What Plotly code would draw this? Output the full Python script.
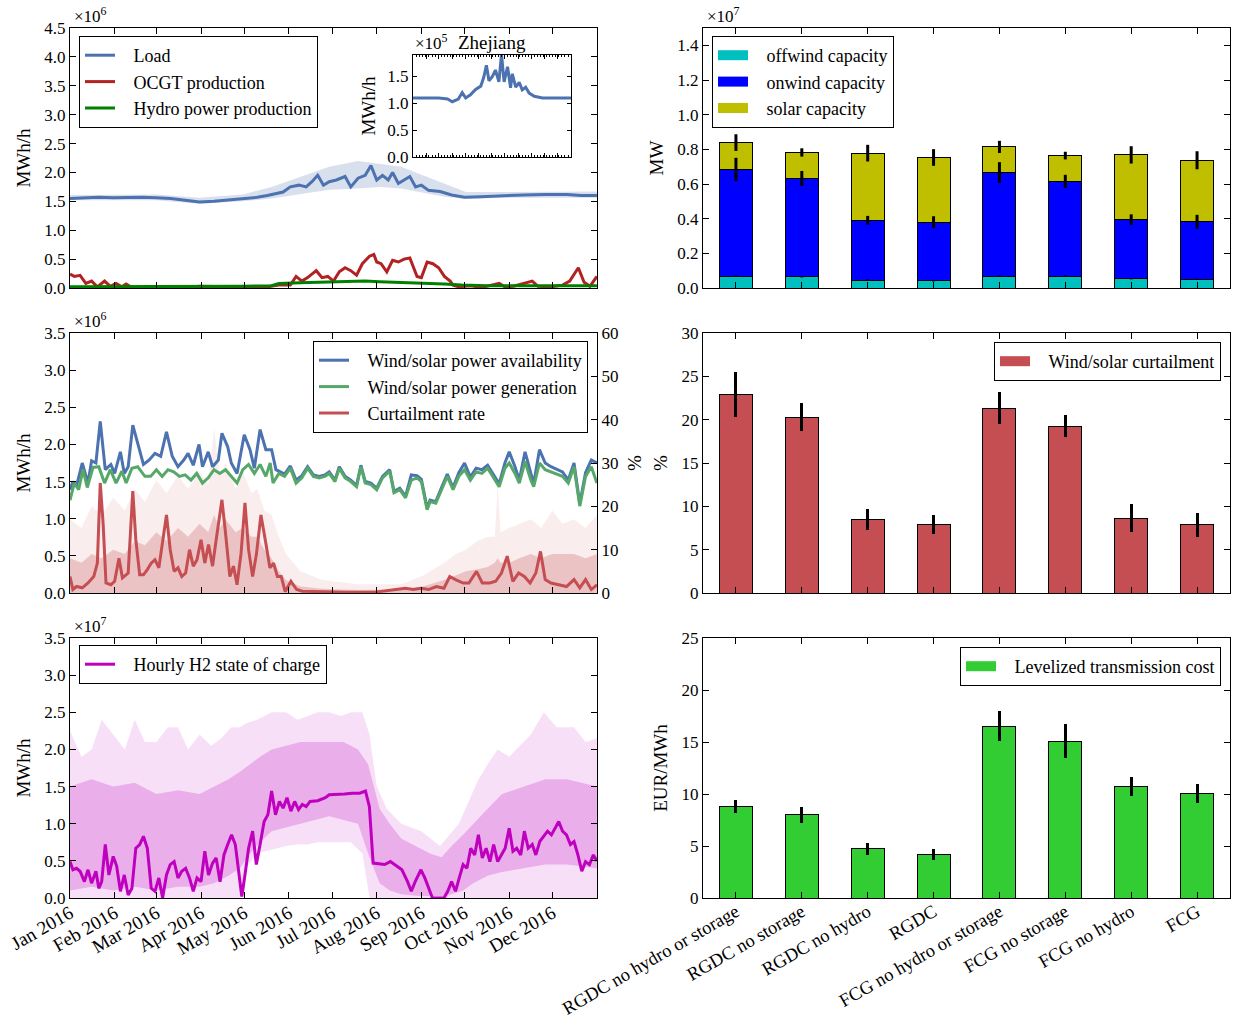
import numpy as np
import pandas as pd
import plotly.graph_objects as go

FONT = "Liberation Serif"
FS = 17      # numeric tick labels
FT = 19      # words (titles, date tick labels)
FL = 18      # legend text
PAD = "\u00a0\u00a0\u00a0"   # gap between legend symbol and legend text

# ---------------- data ----------------
month_ticks = ["2016-01-01", "2016-02-01", "2016-03-01", "2016-04-01", "2016-05-01", "2016-06-01",
               "2016-07-01", "2016-08-01", "2016-09-01", "2016-10-01", "2016-11-01", "2016-12-01"]
month_labels = ["Jan 2016", "Feb 2016", "Mar 2016", "Apr 2016", "May 2016", "Jun 2016",
                "Jul 2016", "Aug 2016", "Sep 2016", "Oct 2016", "Nov 2016", "Dec 2016"]

# top-left (units 1e6 MWh/h), x = day of year 2016
load_days = [0, 10, 20, 30, 40, 50, 60, 70, 80, 90, 100, 110, 120, 130, 137, 143, 148, 153, 159, 164, 168, 172,
             176, 180, 185, 191, 195, 200, 205, 209, 213, 217, 221, 224, 228, 232, 236, 240, 244, 249, 257, 265,
             274, 285, 300, 315, 330, 345, 355, 365.9]
load_vals = [1.55, 1.56, 1.57, 1.56, 1.57, 1.57, 1.56, 1.55, 1.52, 1.49, 1.50, 1.52, 1.55, 1.57, 1.60, 1.63, 1.66,
             1.75, 1.78, 1.75, 1.84, 1.95, 1.78, 1.84, 1.87, 1.93, 1.75, 1.90, 1.95, 2.12, 1.87, 1.95, 1.87, 2.00,
             1.81, 1.87, 1.93, 1.75, 1.78, 1.69, 1.67, 1.61, 1.57, 1.58, 1.60, 1.61, 1.62, 1.62, 1.60, 1.60]
load_band_days = [0, 60, 90, 120, 140, 160, 180, 200, 215, 230, 245, 260, 275, 300, 365.9]
load_band_lo = [1.52, 1.52, 1.46, 1.50, 1.55, 1.62, 1.70, 1.72, 1.75, 1.72, 1.65, 1.58, 1.54, 1.56, 1.56]
load_band_hi = [1.61, 1.62, 1.56, 1.62, 1.75, 1.92, 2.10, 2.20, 2.15, 2.10, 1.95, 1.80, 1.66, 1.66, 1.67]

ocgt_days = [0, 3, 7, 11, 15, 19, 24, 28, 32, 36, 39, 43, 50, 66, 80, 90, 111, 137, 145, 153, 157, 161, 165, 171,
             175, 179, 183, 187, 191, 195, 199, 203, 208, 211, 213, 216, 220, 224, 228, 232, 236, 238, 241, 244,
             248, 252, 256, 260, 264, 266, 270, 278, 286, 298, 302, 308, 321, 325, 334, 342, 347, 353, 357, 361,
             365.9]
ocgt_vals = [0.24, 0.20, 0.22, 0.08, 0.12, 0.02, 0.12, 0.03, 0.08, 0.02, 0.07, 0.01, 0.01, 0.02, 0.01, 0.03, 0.02,
             0.02, 0.05, 0.05, 0.20, 0.12, 0.18, 0.30, 0.18, 0.20, 0.12, 0.28, 0.35, 0.30, 0.22, 0.42, 0.55, 0.58,
             0.45, 0.42, 0.28, 0.48, 0.45, 0.50, 0.52, 0.38, 0.20, 0.18, 0.45, 0.42, 0.35, 0.20, 0.12, 0.05, 0.02,
             0.04, 0.01, 0.08, 0.02, 0.03, 0.12, 0.03, 0.02, 0.05, 0.12, 0.35, 0.10, 0.03, 0.20]

hydro_days = [0, 30, 60, 90, 120, 140, 145, 160, 175, 190, 205, 215, 230, 245, 260, 272, 290, 320, 365.9]
hydro_vals = [0.02, 0.02, 0.02, 0.03, 0.03, 0.04, 0.08, 0.09, 0.10, 0.11, 0.12, 0.11, 0.10, 0.09, 0.07, 0.05,
              0.04, 0.04, 0.04]

# inset, units 1e5 MWh/h
zj_days = [0, 30, 60, 80, 91, 105, 114, 122, 133, 145, 157, 164, 170, 176, 184, 191, 199, 205, 211, 219, 226, 230,
           238, 246, 253, 261, 269, 281, 300, 330, 365.9]
zj_vals = [1.10, 1.10, 1.10, 1.08, 1.03, 1.08, 1.20, 1.10, 1.16, 1.26, 1.32, 1.49, 1.71, 1.42, 1.50, 1.62, 1.40,
           1.91, 1.40, 1.68, 1.29, 1.55, 1.30, 1.39, 1.25, 1.30, 1.19, 1.13, 1.10, 1.10, 1.10]

# middle-left (units 1e6 MWh/h)
gen_days = [0, 3, 6, 9, 12, 16, 20, 24, 28, 32, 36, 39, 43, 47, 52, 56, 60, 64, 68, 72, 76, 80, 84, 88, 92, 96, 100,
            104, 108, 112, 116, 120, 124, 128, 132, 136, 139, 141, 145, 149, 153, 157, 161, 165, 169, 173, 177,
            180, 184, 187, 191, 195, 199, 202, 205, 209, 213, 217, 222, 225, 229, 233, 237, 241, 244, 248, 250,
            254, 258, 262, 266, 270, 274, 278, 282, 286, 290, 294, 298, 302, 305, 309, 312, 316, 320, 322, 326,
            330, 334, 338, 342, 346, 350, 354, 358, 362, 365.9]
gen_vals = [1.25, 1.48, 1.39, 1.66, 1.42, 1.69, 1.70, 1.48, 1.66, 1.48, 1.64, 1.48, 1.68, 1.70, 1.57, 1.57, 1.66,
            1.57, 1.66, 1.63, 1.57, 1.59, 1.52, 1.61, 1.48, 1.55, 1.66, 1.61, 1.66, 1.57, 1.48, 1.66, 1.73, 1.61,
            1.73, 1.57, 1.75, 1.48, 1.61, 1.57, 1.68, 1.48, 1.55, 1.68, 1.57, 1.55, 1.57, 1.61, 1.50, 1.68, 1.55,
            1.50, 1.43, 1.70, 1.48, 1.46, 1.39, 1.55, 1.64, 1.35, 1.39, 1.28, 1.52, 1.55, 1.50, 1.12, 1.23, 1.21,
            1.39, 1.57, 1.39, 1.57, 1.66, 1.52, 1.63, 1.61, 1.68, 1.55, 1.43, 1.68, 1.75, 1.61, 1.48, 1.77, 1.52,
            1.43, 1.75, 1.66, 1.63, 1.61, 1.57, 1.48, 1.70, 1.17, 1.57, 1.70, 1.48]

avail_days = [0, 2, 4.5, 8.5, 12.5, 15, 18, 21, 24.5, 28.4, 31, 35, 37.7, 40.4, 43.6, 47, 51, 55, 59, 63, 67, 71,
              75, 79, 82, 85.6, 89.6, 92, 96, 99, 103, 105.5, 109.5, 112, 116, 121, 125, 128, 132, 136, 140, 143,
              145, 149, 153, 157, 161, 165, 169, 173, 177, 180, 184, 187, 191, 195, 199, 202, 205, 209, 213, 217,
              222, 225, 229, 233, 237, 241, 244, 248, 250, 254, 258, 262, 266, 270, 274, 278, 282, 286, 290, 294,
              298, 302, 305, 309, 312, 316, 320, 322, 326, 330, 334, 338, 342, 346, 350, 354, 358, 362, 365.9]
avail_vals = [1.39, 1.50, 1.44, 1.75, 1.48, 1.78, 1.75, 2.31, 1.66, 1.73, 1.61, 1.90, 1.61, 1.70, 2.26, 2.00, 1.73,
              1.79, 1.88, 1.84, 2.17, 1.84, 1.70, 1.79, 1.88, 1.72, 2.00, 1.70, 1.90, 1.70, 1.79, 2.15, 1.97, 1.75,
              1.61, 2.13, 1.93, 1.68, 2.20, 1.93, 1.93, 1.66,
              1.64, 1.60, 1.71, 1.52, 1.58, 1.70, 1.59, 1.57, 1.59, 1.63, 1.52, 1.70, 1.57, 1.52, 1.45, 1.72, 1.50,
              1.48, 1.41, 1.57, 1.66, 1.37, 1.41, 1.30, 1.59, 1.58, 1.53, 1.14, 1.25, 1.23, 1.42, 1.60, 1.42, 1.62,
              1.75, 1.56, 1.68, 1.66, 1.72, 1.60, 1.47, 1.75, 1.90, 1.70, 1.52, 1.90, 1.60, 1.47, 1.93, 1.75, 1.70,
              1.67, 1.63, 1.52, 1.75, 1.20, 1.62, 1.79, 1.75]

# curtailment rate, %
curt_days = [0, 2, 4.5, 8.5, 12.5, 16.5, 19, 21, 23, 25, 28.4, 31, 34, 36.4, 40.4, 43.6, 45.7, 48.4, 51, 53.7, 56.4,
             59, 61.7, 64.3, 67, 69.6, 72.3, 75, 77.6, 80.3, 83, 85.6, 88.2, 91, 93.6, 96.2, 99, 101.5, 105.5, 108,
             111, 113.5, 116, 118.8, 121.5, 124, 126.8, 129.4, 132.6, 136, 138.8, 141.4, 144, 146.7, 149.4, 153.4,
             157.4, 161.3, 172, 190.6, 211.8, 233, 238.4, 243.7, 249, 254.4, 259.7, 263.7, 267.7, 273, 277, 282.3,
             286.3, 291.6, 295.6, 299.6, 303.6, 307.5, 311.5, 315.5, 319.5, 323.5, 326.7, 330, 334, 339.4, 344.8,
             350, 354, 358, 362, 365.9]
curt_vals = [3.8, 0.8, 1.5, 1.2, 2.3, 3.8, 6.9, 25.4, 16, 2.3, 1.9, 2.7, 8, 3.5, 4.6, 23.5, 12.3, 4.2, 4.2, 5.4,
             6.9, 7.7, 5.8, 11.5, 18, 10, 5, 5.8, 3.8, 4.6, 10, 6.2, 7.7, 12.3, 6.9, 11.2, 6.2, 12.3, 21.5, 13.8,
             3.8, 6.2, 1.9, 9.2, 20.8, 10, 3.8, 8.8, 18, 11.5, 5.8, 6.9, 3.8, 3.8, 0.3, 2.7, 0.8, 0.4, 0.3, 0.2,
             0.2, 1.1, 0.8, 1.1, 0.8, 1.5, 1.1, 3.8, 3.1, 2.3, 2.3, 5, 2.3, 2.3, 2.7, 4.6, 8.5, 2.7, 4.6, 3.8,
             2.3, 4.6, 9.6, 3.1, 2.3, 1.9, 1.5, 3.1, 1.2, 3.1, 0.8, 1.9]
curt_band_days = [0, 8, 15, 22, 30, 38, 45, 52, 60, 67, 75, 82, 90, 96, 100, 104, 108, 115, 120, 126, 130, 135, 140,
                  145, 150, 160, 175, 200, 230, 245, 260, 268, 275, 283, 290, 295, 297, 299, 305, 312, 320, 327,
                  335, 342, 350, 358, 365.9]
curt_outer_hi = [17, 15, 20, 18, 22, 19, 24, 21, 26, 23, 27, 24, 28, 25, 38, 27, 30, 24, 28, 23, 24, 19, 18,
                 13, 9, 5, 3, 2, 2, 4, 7, 9, 10, 12, 13, 13, 25, 14, 15, 16, 17, 15, 19, 16, 17, 15, 18]
curt_inner_hi = [8, 7, 9, 8, 10, 9, 12, 11, 14, 12, 15, 13, 16, 14, 18, 15, 17, 14, 15, 13, 13, 10, 8,
                 5, 3, 1.5, 1, 0.7, 0.8, 1.5, 3, 4, 5, 5.5, 6, 7, 8, 7, 7, 8, 9, 8, 9, 9, 9, 8, 9]

# bottom-left (units 1e7 MWh/h)
h2_days = [0, 2, 4.5, 7, 10, 12.5, 15, 18, 20, 22, 24.5, 27, 30, 32.4, 35, 37.7, 40.4, 43, 45.7, 48.4, 51, 53.7,
           56.4, 59, 61.7, 64.3, 67, 69.6, 72.3, 75, 77.6, 80.3, 83, 85.6, 88.2, 91, 93.6, 96.2, 99, 101.5, 104.2,
           106.9, 109.5, 112.2, 114.8, 117.5, 119.3, 121.5, 124, 126.8, 129.4, 132, 134.8, 137.4, 140, 142.7, 145.4,
           148, 150.7, 153.4, 156, 158.7, 161.3, 164, 166.7, 172, 177.3, 180, 185.3, 190.6, 196, 201.2, 205.2,
           207.9, 210.5, 214.5, 218.5, 222.5, 226.5, 230.5, 234.4, 237, 239.7, 243.7, 246.4, 249, 251.7, 259.7,
           262.3, 265, 267.7, 270.3, 273, 275.6, 278.3, 281, 283.6, 286.3, 289, 291.6, 294.2, 297, 299.6, 302.2,
           305, 307.6, 310.2, 313, 315.5, 318.2, 321, 323.5, 326.2, 329, 331.6, 334.3, 337, 339.4, 342, 344.8,
           347.5, 350, 352.7, 355.4, 358, 360.7, 363.4, 365.9]
h2_vals = [0.49, 0.38, 0.40, 0.36, 0.22, 0.38, 0.20, 0.36, 0.13, 0.22, 0.72, 0.31, 0.56, 0.43, 0.09, 0.31, 0.04,
           0.13, 0.67, 0.72, 0.83, 0.67, 0.13, 0.09, 0.27, 0.0, 0.31, 0.45, 0.49, 0.27, 0.36, 0.40, 0.27, 0.09,
           0.27, 0.22, 0.63, 0.31, 0.47, 0.54, 0.22, 0.58, 0.72, 0.85, 0.72, 0.27, 0.02, 0.31, 0.67, 0.90, 0.45,
           0.72, 1.03, 1.12, 1.44, 1.12, 1.30, 1.21, 1.35, 1.17, 1.30, 1.19, 1.26, 1.23, 1.30, 1.31, 1.35, 1.39,
           1.39, 1.40, 1.41, 1.41, 1.44, 1.23, 0.47, 0.46, 0.45, 0.49, 0.43, 0.38, 0.22, 0.09, 0.22, 0.38, 0.27,
           0.13, 0.0, 0.0, 0.09, 0.22, 0.09, 0.27, 0.45, 0.40, 0.67, 0.58, 0.85, 0.54, 0.67, 0.49, 0.72, 0.49,
           0.58, 0.67, 0.94, 0.63, 0.67, 0.58, 0.90, 0.67, 0.72, 0.58, 0.76, 0.83, 0.90, 0.85, 0.94, 1.03, 0.90,
           0.85, 0.72, 0.76, 0.58, 0.36, 0.49, 0.45, 0.58, 0.50]
h2_band_days = [0, 8, 15, 22, 30, 38, 45, 52, 60, 68, 75, 82, 90, 98, 105, 112, 118, 122, 130, 140, 150, 158, 165,
                172, 180, 188, 195, 203, 208, 213, 220, 230, 244, 257, 270, 283, 290, 297, 305, 310, 320, 329, 338,
                350, 358, 365.9]
h2_outer_lo = [0, 0, 0, 0, 0, 0, 0, 0, 0, 0, 0, 0, 0, 0, 0, 0, 0, 0.4, 0.6, 0.65, 0.7, 0.72, 0.72, 0.75, 0.75,
               0.75, 0.75, 0.6, 0, 0, 0, 0, 0, 0, 0, 0, 0, 0, 0, 0, 0, 0, 0, 0, 0, 0]
h2_outer_hi = [2.25, 1.9, 2.0, 2.4, 2.2, 2.0, 2.4, 2.1, 2.1, 2.3, 2.3, 2.0, 2.2, 2.05, 2.15, 2.3, 2.3, 2.35, 2.4,
               2.5, 2.5, 2.4, 2.45, 2.5, 2.5, 2.45, 2.5, 2.5, 2.2, 1.5, 1.2, 1.0, 0.9, 0.7, 1.0, 1.57, 1.8, 2.0,
               1.9, 2.0, 2.2, 2.5, 2.3, 2.3, 2.1, 2.15]
h2_in_days = [0, 15, 30, 45, 60, 75, 90, 100, 110, 118, 125, 132, 140, 150, 160, 170, 180, 190, 200, 207, 215, 222,
              230, 240, 250, 258, 265, 273, 280, 290, 300, 315, 330, 345, 365.9]
h2_in_lo = [0.1, 0.15, 0.1, 0.15, 0.1, 0.15, 0.15, 0.2, 0.3, 0.4, 0.6, 0.75, 0.9, 0.95, 1.0, 1.05, 1.1, 1.05, 1.0,
            0.6, 0.2, 0.1, 0.05, 0.03, 0.02, 0.02, 0.05, 0.1, 0.2, 0.3, 0.35, 0.4, 0.45, 0.45, 0.4]
h2_in_hi = [1.5, 1.6, 1.5, 1.55, 1.4, 1.45, 1.4, 1.5, 1.6, 1.7, 1.8, 1.9, 2.0, 2.05, 2.1, 2.1, 2.1, 2.1, 2.0, 1.8,
            1.2, 1.0, 0.8, 0.7, 0.6, 0.55, 0.7, 0.85, 1.0, 1.2, 1.4, 1.5, 1.6, 1.6, 1.5]

# right column
scenarios = ["RGDC no hydro or storage", "RGDC no storage", "RGDC no hydro", "RGDC",
             "FCG no hydro or storage", "FCG no storage", "FCG no hydro", "FCG"]
offwind = [0.069, 0.065, 0.046, 0.042, 0.069, 0.069, 0.054, 0.050]          # 1e7 MW
onwind = [0.615, 0.567, 0.344, 0.338, 0.597, 0.546, 0.340, 0.332]
solar = [0.155, 0.150, 0.388, 0.373, 0.148, 0.149, 0.374, 0.355]
offwind_err = [0.004, 0.004, 0.004, 0.004, 0.004, 0.004, 0.004, 0.004]
onwind_err = [0.067, 0.043, 0.026, 0.034, 0.060, 0.038, 0.031, 0.040]
solar_err = [0.048, 0.024, 0.048, 0.048, 0.035, 0.022, 0.050, 0.052]
curtail = [22.9, 20.3, 8.45, 7.9, 21.3, 19.25, 8.65, 7.85]                 # %
curtail_err = [2.6, 1.6, 1.2, 1.1, 1.85, 1.3, 1.6, 1.4]
trans_cost = [8.8, 8.0, 4.74, 4.19, 16.5, 15.08, 10.72, 10.05]             # EUR/MWh
trans_err = [0.65, 0.78, 0.56, 0.53, 1.44, 1.65, 0.91, 0.9]

# ---------------- helpers ----------------
START = pd.Timestamp("2016-01-01")


def dates(days):
    return START + pd.to_timedelta(np.asarray(days, dtype=float), unit="D")


C_LOAD = "#4C72B0"
C_OCGT = "#B22222"
C_HYDRO = "#008000"
C_AVAIL = "#4C72B0"
C_GEN = "#55A868"
C_CURT = "#C44E52"
C_H2 = "#BF00BF"
C_OFF, C_ON, C_SOL, C_TR = "#00BFBF", "#0000FF", "#BFBF00", "#32CD32"

fig = go.Figure()


def band(x, lo, hi, color, xa, ya):
    fig.add_trace(go.Scatter(x=x, y=lo, mode="lines", line=dict(width=0), showlegend=False,
                             hoverinfo="skip", xaxis=xa, yaxis=ya))
    fig.add_trace(go.Scatter(x=x, y=hi, mode="lines", line=dict(width=0), fill="tonexty",
                             fillcolor=color, showlegend=False, hoverinfo="skip", xaxis=xa, yaxis=ya))


def patch_legend(name, color, xa, ya, legend):
    # legend-only proxy giving a wide rectangular patch like the reference
    fig.add_trace(go.Scatter(x=[None], y=[None], mode="lines", name=PAD + name, line=dict(color=color, width=13),
                             xaxis=xa, yaxis=ya, legend=legend, hoverinfo="skip"))


def series(x, y, name, color, xa, ya, legend):
    fig.add_trace(go.Scatter(x=x, y=y, mode="lines", name=PAD + name, line=dict(color=color, width=3),
                             xaxis=xa, yaxis=ya, legend=legend))


# --- top-left
band(dates(load_band_days), load_band_lo, load_band_hi, "rgba(76,114,176,0.22)", "x", "y")
series(dates(load_days), load_vals, "Load", C_LOAD, "x", "y", "legend")
series(dates(ocgt_days), ocgt_vals, "OCGT production", C_OCGT, "x", "y", "legend")
series(dates(hydro_days), hydro_vals, "Hydro power production", C_HYDRO, "x", "y", "legend")
# inset
fig.add_trace(go.Scatter(x=dates(zj_days), y=zj_vals, mode="lines", showlegend=False,
                         line=dict(color=C_LOAD, width=3), xaxis="x7", yaxis="y8"))

# --- middle-left
series(dates(avail_days), avail_vals, "Wind/solar power availability", C_AVAIL, "x3", "y4", "legend2")
series(dates(gen_days), gen_vals, "Wind/solar power generation", C_GEN, "x3", "y4", "legend2")
zeros_c = [0] * len(curt_band_days)
band(dates(curt_band_days), zeros_c, curt_outer_hi, "rgba(196,78,82,0.10)", "x3", "y3")
band(dates(curt_band_days), zeros_c, curt_inner_hi, "rgba(196,78,82,0.26)", "x3", "y3")
series(dates(curt_days), curt_vals, "Curtailment rate", C_CURT, "x3", "y3", "legend2")

# --- bottom-left
band(dates(h2_band_days), h2_outer_lo, h2_outer_hi, "rgba(191,0,191,0.12)", "x5", "y6")
band(dates(h2_in_days), h2_in_lo, h2_in_hi, "rgba(191,0,191,0.22)", "x5", "y6")
series(dates(h2_days), h2_vals, "Hourly H2 state of charge", C_H2, "x5", "y6", "legend3")

# --- top-right stacked capacities
bar_line = dict(color="black", width=1)
for vals, name, col in [(offwind, "offwind capacity", C_OFF),
                        (onwind, "onwind capacity", C_ON),
                        (solar, "solar capacity", C_SOL)]:
    fig.add_trace(go.Bar(x=scenarios, y=vals, name=name, width=0.5, marker=dict(color=col, line=bar_line),
                         xaxis="x2", yaxis="y2", showlegend=False))
    patch_legend(name, col, "x2", "y2", "legend4")
cum = np.cumsum(np.array([offwind, onwind, solar]), axis=0)
for level, err in zip(cum, [offwind_err, onwind_err, solar_err]):
    fig.add_trace(go.Scatter(x=scenarios, y=level, mode="markers", marker=dict(size=1, color="rgba(0,0,0,0)"),
                             error_y=dict(type="data", array=err, color="black", thickness=3, width=0),
                             showlegend=False, hoverinfo="skip", xaxis="x2", yaxis="y2"))

# --- middle-right
fig.add_trace(go.Bar(x=scenarios, y=curtail, name="Wind/solar curtailment", width=0.5,
                     marker=dict(color=C_CURT, line=bar_line), showlegend=False,
                     error_y=dict(type="data", array=curtail_err, color="black", thickness=3, width=0),
                     xaxis="x4", yaxis="y5"))
patch_legend("Wind/solar curtailment", C_CURT, "x4", "y5", "legend5")
# --- bottom-right
fig.add_trace(go.Bar(x=scenarios, y=trans_cost, name="Levelized transmission cost", width=0.5,
                     marker=dict(color=C_TR, line=bar_line), showlegend=False,
                     error_y=dict(type="data", array=trans_err, color="black", thickness=3, width=0),
                     xaxis="x6", yaxis="y7"))
patch_legend("Levelized transmission cost", C_TR, "x6", "y7", "legend6")

# ---------------- layout ----------------
W, H = 1235, 1021
XL = [70 / W, 597 / W]
XR = [703 / W, 1230 / W]
R1 = [1 - 288 / H, 1 - 28 / H]
R2 = [1 - 593 / H, 1 - 333 / H]
R3 = [1 - 898 / H, 1 - 638 / H]
tfont = dict(family=FONT, size=FS, color="black")
wfont = dict(family=FONT, size=FT, color="black")
lfont = dict(family=FONT, size=FL, color="black")
cfont = dict(family=FONT, size=18.5, color="black")
date_range = ["2016-01-01", "2016-12-31 23:00"]


def ax(**kw):
    d = dict(showline=True, linecolor="black", linewidth=1, ticks="inside", ticklen=6, tickcolor="black",
             tickwidth=1, showgrid=False, zeroline=False, tickfont=tfont, mirror="ticks", automargin=False)
    d.update(kw)
    return d


def ytitle(t, standoff=8):
    return dict(text=t, font=wfont, standoff=standoff)


def leg(x, y, xanchor):
    return dict(x=x, y=y, xanchor=xanchor, yanchor="top", bordercolor="black", borderwidth=1, bgcolor="white",
                font=lfont, traceorder="normal", itemwidth=30)


cat_range = [-0.5, 7.5]
fig.update_layout(
    width=W, height=H, autosize=False, margin=dict(l=0, r=0, t=0, b=0),
    paper_bgcolor="white", plot_bgcolor="white", barmode="stack", font=tfont,
    xaxis=ax(domain=XL, anchor="y", type="date", range=date_range, tickvals=month_ticks, showticklabels=False),
    yaxis=ax(domain=R1, anchor="x", range=[0, 4.5], dtick=0.5, tickformat=".1f", title=ytitle("MWh/h")),
    xaxis2=ax(domain=XR, anchor="y2", type="category", range=cat_range, showticklabels=False),
    yaxis2=ax(domain=R1, anchor="x2", range=[0, 1.5], dtick=0.2, tickformat=".1f", title=ytitle("MW")),
    xaxis3=ax(domain=XL, anchor="y3", type="date", range=date_range, tickvals=month_ticks, showticklabels=False),
    yaxis3=ax(domain=R2, anchor="x3", side="right", range=[0, 60], dtick=10, mirror=False,
              title=ytitle("%", 10)),
    yaxis4=ax(overlaying="y3", anchor="x3", side="left", range=[0, 3.5], dtick=0.5, tickformat=".1f",
              mirror=False, title=ytitle("MWh/h")),
    xaxis4=ax(domain=XR, anchor="y5", type="category", range=cat_range, showticklabels=False),
    yaxis5=ax(domain=R2, anchor="x4", range=[0, 30], dtick=5, title=ytitle("%")),
    xaxis5=ax(domain=XL, anchor="y6", type="date", range=date_range, tickvals=month_ticks, ticktext=month_labels,
              tickangle=-30, tickfont=wfont, ticklabelstandoff=-4),
    yaxis6=ax(domain=R3, anchor="x5", range=[0, 3.5], dtick=0.5, tickformat=".1f", title=ytitle("MWh/h")),
    xaxis6=ax(domain=XR, anchor="y7", type="category", range=cat_range, tickangle=-30, tickfont=cfont,
              ticklabelstandoff=-5),
    yaxis7=ax(domain=R3, anchor="x6", range=[0, 25], dtick=5, title=ytitle("EUR/MWh")),
    xaxis7=ax(domain=[413 / W, 571 / W], anchor="y8", type="date", range=date_range, dtick="M1",
              tick0="2016-01-01", ticklen=4, showticklabels=False,
              minor=dict(ticks="inside", dtick=7 * 86400000, ticklen=2, tickcolor="black")),
    yaxis8=ax(domain=[1 - 157 / H, 1 - 55 / H], anchor="x7", range=[0, 1.9], tickvals=[0, 0.5, 1.0, 1.5],
              tickformat=".1f", ticklen=4, title=ytitle("MWh/h", 6)),
    legend=leg(79 / W, 1 - 36 / H, "left"),
    legend2=leg(588 / W, 1 - 341 / H, "right"),
    legend3=leg(79 / W, 1 - 645 / H, "left"),
    legend4=leg(712 / W, 1 - 36 / H, "left"),
    legend5=leg(1221 / W, 1 - 342 / H, "right"),
    legend6=leg(1221 / W, 1 - 647 / H, "right"),
)

ann = [
    ("×10<sup>6</sup>", 72, 28, "left"),
    ("×10<sup>6</sup>", 72, 333, "left"),
    ("×10<sup>7</sup>", 72, 638, "left"),
    ("×10<sup>7</sup>", 705, 28, "left"),
    ("×10<sup>5</sup>", 413, 55, "left"),
]
for text, px, py, xa in ann:
    fig.add_annotation(text=text, x=px / W, y=1 - py / H, xref="paper", yref="paper", xanchor=xa,
                       yanchor="bottom", showarrow=False, font=tfont)
fig.add_annotation(text="Zhejiang", x=492 / W, y=1 - 55 / H, xref="paper", yref="paper", xanchor="center",
                   yanchor="bottom", showarrow=False, font=wfont)

fig.write_html("out.html", config={"displayModeBar": False},
               post_script="document.body.style.margin='0px';document.body.style.overflow='hidden';")
